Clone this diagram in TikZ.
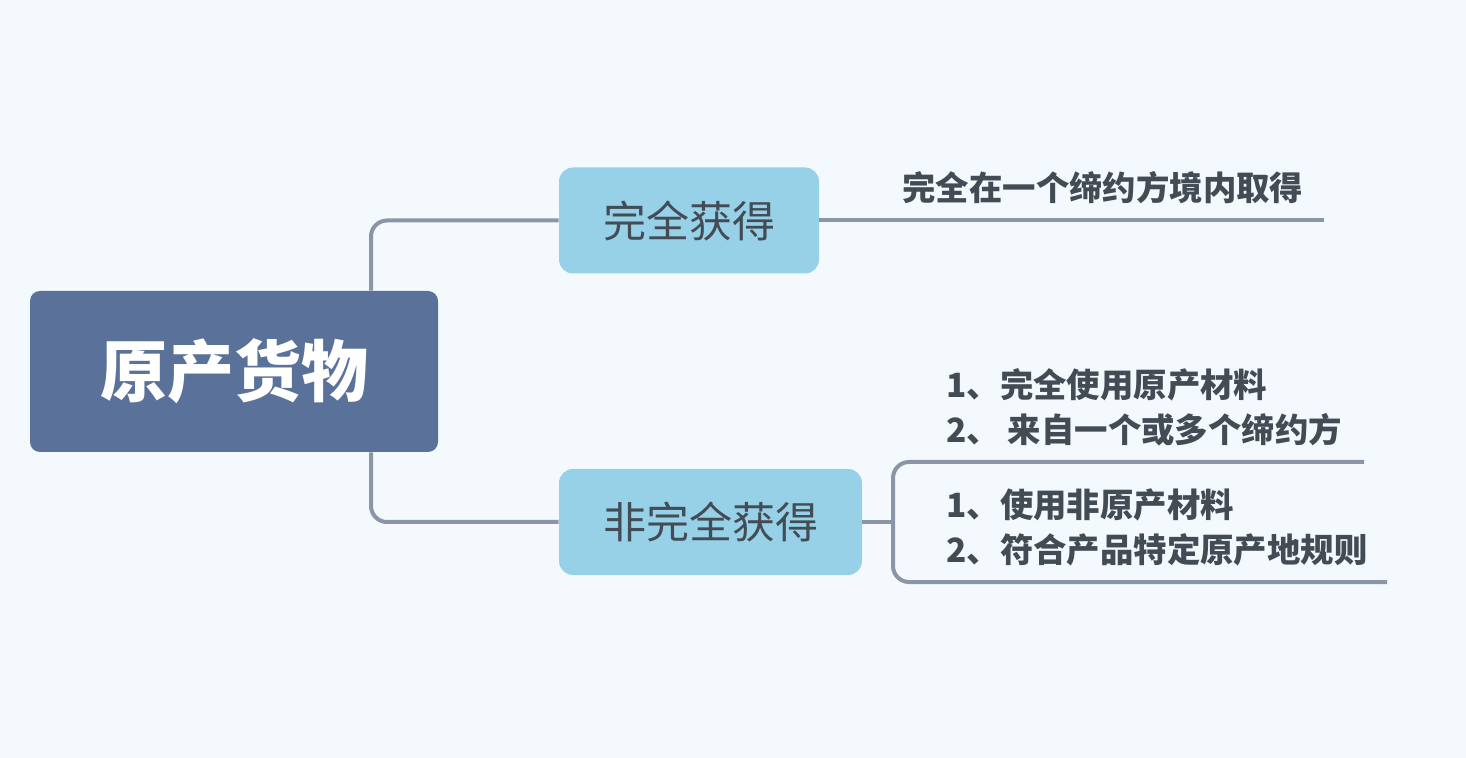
\documentclass[tikz,border=0pt]{standalone}
\usepackage{fontspec}
\setmainfont{Noto Sans CJK SC}
\usetikzlibrary{calc}
\definecolor{bg}{HTML}{F4F9FD}
\definecolor{rootc}{HTML}{5A7199}
\definecolor{topicc}{HTML}{96D1E7}
\definecolor{linec}{HTML}{8A96A8}
\definecolor{txtc}{HTML}{434B55}
\tikzset{
  rootbox/.style={fill=rootc, rounded corners=5pt, minimum width=204pt, minimum height=80.5pt, inner sep=0pt, text=white, font=\fontsize{33.5}{40}\selectfont\bfseries},
  topicbox/.style={fill=topicc, rounded corners=7pt, minimum height=53pt, inner sep=0pt, text=txtc, font=\fontsize{21.5}{26}\selectfont},
  leaf/.style={anchor=west, inner sep=0pt, text=txtc, align=left, font=\fontsize{16.7}{22.5}\selectfont\bfseries},
  conn/.style={draw=linec, line width=2pt, rounded corners=8pt},
}
\begin{document}
\begin{tikzpicture}[x=0.5pt,y=-0.5pt]
\fill[bg] (0,0) rectangle (1466,758);
\useasboundingbox (0,0) rectangle (1466,758);
\node[rootbox] (root) at (234,371.5) {原产货物};
\node[topicbox, minimum width=130pt] (n1) at (689,220.5) {完全获得};
\node[topicbox, minimum width=151.5pt] (n2) at (710.5,522) {非完全获得};
\coordinate (j) at (371,0);
\draw[conn] (root.north -| j) |- (n1.west);
\draw[conn] (root.south -| j) |- (n2.west);
\coordinate (e1) at (1324,220.5);
\draw[conn] (n1.east) -- (e1);
\node[leaf] (l1) at (902,188) {完全在一个缔约方境内取得};
\coordinate (b) at (893,522);
\coordinate (t2) at (1364,462);
\coordinate (t3) at (1387,582);
\draw[conn] (n2.east) -- (b);
\draw[conn] (t2) -| (b) |- (t3);
\node[leaf] (l2) at (946,407) {1、完全使用原产材料\\2、 来自一个或多个缔约方};
\node[leaf] (l3) at (946,527) {1、使用非原产材料\\2、符合产品特定原产地规则};
\end{tikzpicture}
\end{document}
